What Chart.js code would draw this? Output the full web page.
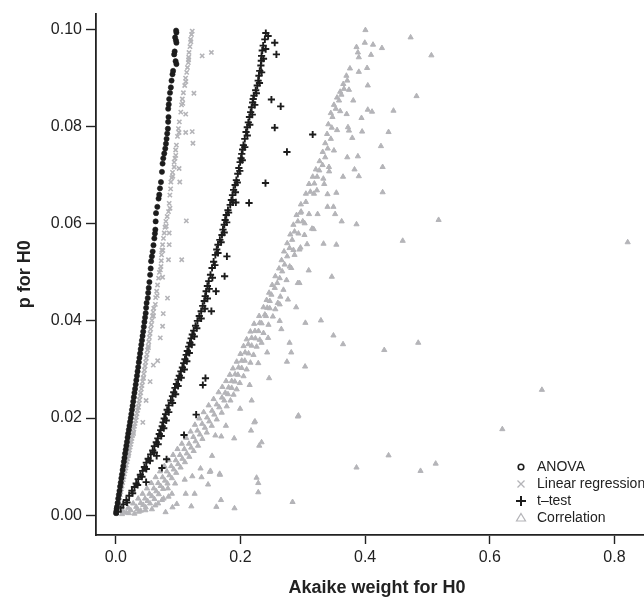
<!DOCTYPE html>
<html>
<head>
<meta charset="utf-8">
<script src="https://cdn.jsdelivr.net/npm/chart.js@4/dist/chart.umd.min.js"></script>
<style>
  html, body { margin: 0; padding: 0; background: #fff; overflow: hidden; }
  canvas { display: block; }
</style>
</head>
<body>
<canvas id="c" width="664" height="599"></canvas>
<script>
// values, as [Akaike weight, p]
const anova = [
  [0.0005,0.0004],[0.001,0.0008],[0.0015,0.0013],[0.002,0.0017],[0.003,0.0025],[0.004,0.0034],[0.005,0.0042],
  [0.006,0.005],[0.007,0.0059],[0.008,0.0067],[0.009,0.0076],[0.010,0.0084],[0.011,0.0093],[0.012,0.0101],
  [0.013,0.011],[0.014,0.0118],[0.015,0.0127],[0.016,0.0135],[0.017,0.0143],[0.018,0.0151],[0.019,0.016],
  [0.020,0.0168],[0.021,0.0176],[0.022,0.0184],[0.023,0.0192],[0.024,0.0200],[0.025,0.0208],[0.026,0.0217],
  [0.027,0.0225],[0.028,0.0234],[0.029,0.0243],[0.030,0.0252],[0.031,0.026],[0.032,0.0269],[0.033,0.0278],
  [0.034,0.0287],[0.035,0.0296],[0.036,0.0305],[0.037,0.0315],[0.038,0.0324],[0.039,0.0333],[0.040,0.0342],
  [0.041,0.0351],[0.042,0.036],[0.043,0.0369],[0.044,0.0378],[0.045,0.0388],[0.046,0.0398],[0.047,0.0407],
  [0.048,0.0416],[0.0487,0.0427],[0.0495,0.0437],[0.0513,0.0447],[0.052,0.0458],[0.0529,0.0468],[0.054,0.048],
  [0.0551,0.0495],[0.056,0.0508],[0.0567,0.0523],[0.058,0.0533],[0.0592,0.0543],[0.0605,0.0556],[0.0619,0.057],
  [0.0628,0.058],[0.0635,0.0588],[0.064,0.0605],[0.0646,0.0622],[0.0667,0.0635],[0.0687,0.0652],[0.0698,0.066],
  [0.0709,0.0673],[0.0725,0.0686],[0.0741,0.0707],[0.0751,0.0724],[0.0762,0.0735],[0.0778,0.0745],[0.0794,0.0755],
  [0.0805,0.0765],[0.0815,0.0775],[0.0825,0.0786],[0.0836,0.0796],[0.084,0.081],[0.0846,0.082],[0.0841,0.0837],
  [0.085,0.0846],[0.0857,0.0857],[0.087,0.087],[0.0884,0.0881],[0.0895,0.0895],[0.091,0.0908],[0.092,0.0915],
  [0.0973,0.0929],[0.096,0.0935],[0.0937,0.0949],[0.0945,0.0955],[0.0973,0.0973],[0.0965,0.0978],[0.0952,0.0984],
  [0.0973,0.0994],[0.0968,0.0998]
];

const linreg = [
  [0.001,0.0006],[0.002,0.0012],[0.003,0.0018],[0.004,0.0024],[0.005,0.003],[0.006,0.0036],[0.007,0.0042],
  [0.008,0.0048],[0.009,0.0054],[0.010,0.006],[0.011,0.0067],[0.012,0.0073],[0.013,0.0079],[0.014,0.0085],
  [0.015,0.0091],[0.016,0.0097],[0.017,0.0103],[0.018,0.011],[0.019,0.0116],[0.020,0.0122],[0.021,0.0128],
  [0.022,0.0134],[0.023,0.014],[0.024,0.0146],[0.025,0.0152],[0.026,0.0158],[0.027,0.0164],[0.028,0.0171],
  [0.029,0.0177],[0.030,0.0183],[0.031,0.0189],[0.032,0.0195],[0.033,0.0202],[0.034,0.0209],[0.035,0.0216],
  [0.036,0.0223],[0.037,0.023],[0.038,0.0237],[0.039,0.0245],[0.040,0.0252],[0.041,0.026],[0.042,0.0267],
  [0.043,0.0275],[0.044,0.0283],[0.045,0.0291],[0.046,0.0299],[0.047,0.0307],[0.048,0.0315],[0.049,0.0323],
  [0.050,0.0331],[0.051,0.034],[0.052,0.0348],[0.053,0.0357],[0.054,0.0366],[0.055,0.0374],[0.056,0.0383],
  [0.057,0.0392],[0.058,0.0401],[0.059,0.041],[0.060,0.0418],[0.061,0.0426],[0.0635,0.0434],[0.064,0.0448],
  [0.0656,0.0461],[0.067,0.0474],[0.0687,0.0488],[0.070,0.05],[0.0725,0.0512],[0.073,0.0524],[0.0735,0.0536],
  [0.074,0.0546],[0.0751,0.0557],[0.0765,0.057],[0.0778,0.0581],[0.079,0.0593],[0.0804,0.0605],[0.0825,0.0615],
  [0.0846,0.0625],[0.0857,0.0642],[0.0868,0.0659],[0.088,0.0672],[0.0884,0.0686],[0.0899,0.0695],[0.091,0.0706],
  [0.0937,0.0717],[0.0937,0.0727],[0.095,0.0735],[0.0963,0.0741],[0.0973,0.0762],[0.099,0.078],[0.1005,0.0796],
  [0.102,0.081],[0.1043,0.083],[0.1055,0.0845],[0.1068,0.0857],[0.1085,0.087],[0.1106,0.0885],[0.112,0.09],
  [0.1138,0.0912],[0.115,0.0922],[0.1164,0.0932],[0.117,0.0943],[0.1175,0.0953],[0.119,0.0965],[0.1201,0.098],
  [0.1215,0.099],[0.1227,0.0997],
  [0.0205,0.0125],[0.0285,0.0168],[0.0365,0.0222],[0.0445,0.0282],[0.0525,0.0345],[0.0605,0.041],[0.0665,0.0452],
  [0.0715,0.0505],[0.0755,0.0545],[0.081,0.0595],[0.087,0.0632],[0.0915,0.0698],[0.096,0.0752],[0.1015,0.0788],
  [0.1075,0.0848],[0.1125,0.0893],[0.1168,0.0938],[0.1205,0.0975],
  [0.1386,0.0946],[0.1534,0.0953],[0.1254,0.0869],[0.1122,0.0826],[0.1227,0.079],[0.1122,0.0788],[0.1238,0.0766],
  [0.1016,0.0714],[0.1027,0.0686],[0.1132,0.0606],[0.0857,0.0581],[0.0857,0.0557],[0.1058,0.0526],[0.0846,0.0526],
  [0.0751,0.049],[0.083,0.0447],[0.0762,0.0415],[0.0751,0.0389],[0.0714,0.0365],[0.0672,0.0318],[0.0603,0.0309],
  [0.0551,0.0275],[0.0487,0.0236],[0.0434,0.0191]
];

const ttest = [
  [0.0037,0.0007],[0.008,0.0015],[0.012,0.0022],[0.017,0.0031],[0.0215,0.004],[0.026,0.005],[0.030,0.0058],
  [0.0328,0.0065],[0.036,0.0074],[0.0395,0.0083],[0.043,0.0091],[0.046,0.0099],[0.049,0.0108],[0.052,0.0116],
  [0.056,0.0125],[0.0593,0.0133],[0.062,0.0142],[0.065,0.015],[0.0675,0.0158],[0.0698,0.0167],[0.072,0.0175],
  [0.0745,0.0183],[0.076,0.0191],[0.0778,0.0199],[0.080,0.0208],[0.0825,0.0217],[0.085,0.0226],[0.0884,0.0236],
  [0.091,0.0245],[0.093,0.0253],[0.095,0.0262],[0.0974,0.027],[0.100,0.0279],[0.102,0.0287],[0.1045,0.0296],
  [0.1069,0.0304],[0.109,0.0313],[0.111,0.0321],[0.113,0.033],[0.1148,0.0338],[0.117,0.0347],[0.119,0.0355],
  [0.121,0.0364],[0.1228,0.0372],[0.125,0.038],[0.128,0.039],[0.131,0.040],[0.134,0.041],[0.137,0.042],
  [0.1395,0.0431],[0.142,0.0441],[0.1435,0.0451],[0.145,0.0461],[0.147,0.0472],[0.1492,0.0482],[0.152,0.0495],
  [0.1545,0.0509],[0.157,0.0522],[0.1598,0.0536],[0.162,0.0547],[0.164,0.0557],[0.167,0.0567],[0.1704,0.0577],
  [0.172,0.0588],[0.1741,0.0598],[0.1755,0.0608],[0.1773,0.0618],[0.180,0.0628],[0.1836,0.0639],[0.1855,0.0649],
  [0.1873,0.0659],[0.189,0.067],[0.1915,0.068],[0.1935,0.069],[0.1958,0.0703],[0.1975,0.0715],[0.1995,0.0727],
  [0.201,0.0735],[0.2021,0.0744],[0.2035,0.0753],[0.2048,0.0762],[0.207,0.0775],[0.209,0.0789],[0.211,0.0799],
  [0.2127,0.0809],[0.2145,0.082],[0.2164,0.083],[0.218,0.084],[0.2196,0.085],[0.2205,0.0857],[0.2217,0.0864],
  [0.2245,0.0875],[0.227,0.0885],[0.2285,0.0895],[0.2297,0.0905],[0.231,0.0915],[0.2328,0.0926],[0.2335,0.0936],
  [0.2339,0.0946],[0.235,0.0957],[0.2365,0.0967],[0.2392,0.098],[0.2444,0.0987],[0.2407,0.0993],
  [0.018,0.0026],[0.027,0.0045],[0.035,0.0062],[0.042,0.0079],[0.049,0.0095],[0.055,0.0112],[0.062,0.0129],
  [0.068,0.0146],[0.073,0.0163],[0.077,0.0179],[0.081,0.0195],[0.085,0.0212],[0.091,0.0231],[0.096,0.0249],
  [0.100,0.0266],[0.105,0.0283],[0.110,0.030],[0.114,0.0317],[0.118,0.0334],[0.122,0.0351],[0.126,0.0368],
  [0.130,0.0385],[0.137,0.0405],[0.143,0.0425],[0.147,0.0446],[0.150,0.0466],[0.155,0.0489],[0.159,0.0515],
  [0.164,0.054],[0.169,0.0562],[0.174,0.0582],[0.178,0.0603],[0.181,0.0623],[0.188,0.0644],[0.192,0.0665],
  [0.195,0.0685],[0.199,0.0709],[0.203,0.0731],[0.207,0.0758],[0.211,0.0782],[0.215,0.0804],[0.219,0.0825],
  [0.223,0.0845],[0.2255,0.0869],[0.2305,0.089],[0.234,0.0912],[0.237,0.094],[0.2405,0.096],
  [0.255,0.0973],[0.2577,0.0949],[0.2497,0.0856],[0.2646,0.0842],[0.255,0.0798],[0.2746,0.0748],[0.2402,0.0684],
  [0.2138,0.0643],[0.1926,0.0644],[0.1783,0.0533],[0.1746,0.0492],[0.1608,0.0461],[0.3159,0.0784],[0.1534,0.042],
  [0.1439,0.0282],[0.1397,0.0268],[0.129,0.0207],[0.1095,0.0165],[0.0815,0.0115],[0.0741,0.0097],[0.0656,0.0122],
  [0.0487,0.0068]
];

const corr = [
  // main band
  [0.010,0.0002],[0.017,0.0005],[0.024,0.001],[0.0328,0.0017],[0.040,0.0025],[0.047,0.0034],[0.054,0.0044],
  [0.061,0.0055],[0.068,0.0066],[0.0751,0.0078],[0.082,0.009],[0.089,0.0101],[0.0963,0.0113],[0.103,0.0124],
  [0.110,0.0136],[0.1175,0.0147],[0.1245,0.0161],[0.131,0.0174],[0.1386,0.0188],[0.1465,0.0201],[0.1545,0.0215],
  [0.162,0.0228],[0.1704,0.0242],[0.1757,0.0252],[0.181,0.0263],[0.186,0.0276],[0.1915,0.029],[0.197,0.0304],
  [0.2021,0.0318],[0.2075,0.0335],[0.2127,0.0352],[0.218,0.0365],[0.2233,0.0379],[0.231,0.0396],[0.2392,0.0413],
  [0.243,0.0427],[0.2471,0.0441],[0.2497,0.0454],[0.2551,0.0468],[0.259,0.0478],[0.263,0.0488],[0.267,0.0502],
  [0.2709,0.0516],[0.275,0.0533],[0.2788,0.055],[0.283,0.0567],[0.2868,0.0584],[0.2921,0.0605],[0.2973,0.0625],
  [0.305,0.0645],[0.3122,0.0666],[0.3186,0.0683],[0.323,0.0697],[0.3265,0.071],[0.3317,0.0721],[0.336,0.0737],
  [0.340,0.0755],[0.345,0.0775],[0.3465,0.0798],[0.3476,0.082],[0.353,0.0837],[0.3582,0.0854],[0.362,0.0866],
  [0.3661,0.0878],[0.3714,0.0895],[0.3757,0.092],[0.3899,0.0943],[0.3862,0.0964],[0.3995,0.0973],[0.4005,0.0999],
  [0.012,0.0008],[0.020,0.0015],[0.028,0.0024],[0.036,0.0034],[0.043,0.0044],[0.050,0.0055],[0.057,0.0066],
  [0.064,0.0078],[0.071,0.009],[0.078,0.0101],[0.085,0.0113],[0.092,0.0124],[0.099,0.0136],[0.106,0.0147],
  [0.113,0.0159],[0.120,0.0172],[0.127,0.0186],[0.134,0.0199],[0.141,0.0212],[0.149,0.0226],[0.157,0.0239],
  [0.165,0.0253],[0.171,0.0264],[0.177,0.0276],[0.183,0.0289],[0.188,0.0302],[0.194,0.0316],[0.200,0.0332],
  [0.205,0.0348],[0.210,0.0362],[0.216,0.0378],[0.222,0.0394],[0.230,0.041],[0.237,0.0428],[0.242,0.0443],
  [0.246,0.0458],[0.251,0.0474],[0.256,0.0492],[0.262,0.0508],[0.266,0.0525],[0.270,0.0543],[0.275,0.056],
  [0.280,0.0578],[0.285,0.0598],[0.290,0.0618],[0.297,0.064],[0.305,0.0662],[0.310,0.0682],[0.316,0.0697],
  [0.321,0.0712],[0.327,0.0729],[0.332,0.0748],[0.336,0.0766],[0.339,0.0785],[0.341,0.0805],[0.345,0.0828],
  [0.350,0.0845],[0.355,0.086],[0.360,0.0872],[0.365,0.0888],[0.370,0.0905],
  [0.030,0.0003],[0.040,0.0009],[0.048,0.0016],[0.055,0.0024],[0.062,0.0033],[0.069,0.0043],[0.076,0.0054],
  [0.083,0.0065],[0.090,0.0076],[0.097,0.0087],[0.104,0.0098],[0.111,0.0109],[0.118,0.012],[0.125,0.0132],
  [0.132,0.0143],[0.139,0.0157],[0.146,0.017],[0.154,0.0184],[0.162,0.0197],[0.170,0.0211],[0.178,0.0224],
  [0.184,0.0236],[0.189,0.0248],[0.194,0.0259],[0.199,0.0272],[0.205,0.0286],[0.210,0.030],[0.216,0.0314],
  [0.221,0.033],[0.226,0.0347],[0.231,0.0361],[0.237,0.0375],[0.245,0.0392],[0.252,0.0409],[0.256,0.0424],
  [0.260,0.0437],[0.264,0.045],[0.269,0.0464],[0.274,0.0484],[0.279,0.0512],[0.285,0.0546],[0.293,0.058],
  [0.303,0.0601],[0.310,0.062],[0.318,0.0662],[0.333,0.0693],[0.342,0.0717],[0.350,0.0751],[0.355,0.0793],
  [0.360,0.0832],
  [0.021,0.0004],[0.035,0.0012],[0.044,0.0021],[0.051,0.0029],[0.058,0.0039],[0.065,0.0049],[0.072,0.006],
  [0.079,0.0071],[0.086,0.0082],[0.093,0.0094],[0.100,0.0105],[0.107,0.0116],[0.114,0.0127],[0.121,0.0139],
  [0.128,0.0152],[0.135,0.0166],[0.143,0.018],[0.150,0.0193],[0.158,0.0207],[0.166,0.0222],[0.174,0.0236],
  [0.180,0.0249],[0.186,0.0262],[0.191,0.0275],[0.196,0.0289],[0.202,0.0303],[0.207,0.0318],[0.213,0.0333],
  [0.218,0.0349],[0.224,0.0364],[0.229,0.0379],[0.234,0.0395],[0.241,0.041],[0.247,0.0426],
  // near-origin fuzz
  [0.0476,0.001],[0.037,0.0007],[0.0635,0.002],[0.0741,0.0031],[0.0846,0.0038],[0.058,0.0012],[0.068,0.0024],
  // scattered below the band
  [0.263,0.0434],[0.2894,0.0428],[0.3042,0.0396],[0.3291,0.0401],[0.3492,0.037],[0.3646,0.0352],[0.4307,0.034],
  [0.4852,0.0355],[0.263,0.040],[0.2656,0.0383],[0.2444,0.0365],[0.2339,0.0355],[0.2788,0.0355],[0.2815,0.0335],
  [0.2429,0.0335],[0.2746,0.0316],[0.3037,0.0306],[0.2286,0.0313],[0.246,0.0282],[0.2148,0.0268],[0.218,0.0236],
  [0.1995,0.0219],[0.2921,0.0203],[0.2233,0.0193],[0.2222,0.0191],[0.217,0.0174],[0.1767,0.0184],[0.19,0.0158],
  [0.1693,0.0162],[0.1598,0.0164],[0.2339,0.015],[0.2302,0.0143],[0.1545,0.0122],[0.3862,0.0098],[0.1672,0.0083],
  [0.1519,0.0091],[0.2259,0.0077],[0.2286,0.0066],[0.2286,0.0047],[0.1481,0.0063],[0.136,0.0096],[0.1228,0.008],
  [0.1106,0.0073],[0.1265,0.0044],[0.1122,0.0044],[0.090,0.0044],[0.0979,0.0023],[0.1212,0.0018],[0.0799,0.0006],
  [0.1614,0.0017],[0.1688,0.0031],[0.1905,0.0014],[0.2836,0.0027],[0.6836,0.0258],[0.6201,0.0177],[0.4376,0.0123],
  [0.4889,0.0091],[0.5132,0.0106],[0.2931,0.0205],[0.1376,0.0078],[0.0952,0.0065],[0.0836,0.0055],[0.0767,0.0034],
  [0.091,0.0016],[0.1508,0.0089],[0.1667,0.0085],
  // scattered around the upper band
  [0.473,0.0984],[0.5063,0.0947],[0.4127,0.0969],[0.427,0.0962],[0.3884,0.0953],[0.4095,0.0948],[0.4032,0.0921],
  [0.3899,0.0913],[0.4043,0.0885],[0.3741,0.0876],[0.381,0.0854],[0.4825,0.0863],[0.4455,0.0833],[0.4043,0.0835],
  [0.4111,0.0831],[0.3942,0.0818],[0.3704,0.0826],[0.3725,0.0799],[0.3741,0.0792],[0.3952,0.079],[0.4376,0.0789],
  [0.3794,0.0777],[0.4254,0.076],[0.3714,0.0737],[0.3884,0.0739],[0.4281,0.0717],[0.383,0.0712],[0.3423,0.0708],
  [0.3646,0.0697],[0.3899,0.0698],[0.3344,0.0682],[0.3397,0.0661],[0.3539,0.0664],[0.4281,0.0665],[0.3227,0.0669],
  [0.3397,0.0635],[0.3492,0.0635],[0.3519,0.062],[0.3238,0.062],[0.3624,0.0605],[0.3862,0.0599],[0.5179,0.0608],
  [0.3148,0.059],[0.3175,0.0589],[0.2963,0.0623],[0.4603,0.0565],[0.8212,0.0562],[0.3333,0.0559],[0.3539,0.0557],
  [0.3069,0.0558],[0.2963,0.0551],[0.3095,0.0504],[0.3466,0.0491],[0.2947,0.0478],[0.3027,0.0577],[0.3,0.0605],
  [0.2868,0.0536],[0.2815,0.0509],[0.2921,0.0478],[0.2762,0.0444],[0.2947,0.0547]
];

const seriesNames = ["ANOVA", "Linear regression", "t\u2013test", "Correlation"];
const xTicks = [0, 0.2, 0.4, 0.6, 0.8];
const xTickLabels = ["0.0", "0.2", "0.4", "0.6", "0.8"];
const yTicks = [0, 0.02, 0.04, 0.06, 0.08, 0.10];
const yTickLabels = ["0.00", "0.02", "0.04", "0.06", "0.08", "0.10"];

const FONT = '"Liberation Sans", Arial, Helvetica, sans-serif';
const INK = "#1c1c1c";
const GREY = "#b4b4b8";

const pts = (arr) => arr.map(([x, y]) => ({ x, y }));

// legend in the lower right corner, like R's legend(bty = "n")
const cornerLegend = {
  id: "cornerLegend",
  afterDraw(chart) {
    const ctx = chart.ctx;
    const x0 = 521, y0 = 467, step = 17;
    ctx.save();
    ctx.font = "14px " + FONT;
    ctx.textBaseline = "middle";
    seriesNames.forEach((name, i) => {
      const y = y0 + i * step;
      ctx.beginPath();
      if (i === 0) {
        ctx.strokeStyle = INK; ctx.lineWidth = 1.6;
        ctx.arc(x0, y, 2.8, 0, Math.PI * 2);
      } else if (i === 1) {
        ctx.strokeStyle = GREY; ctx.lineWidth = 1.3;
        ctx.moveTo(x0 - 3.5, y - 3.5); ctx.lineTo(x0 + 3.5, y + 3.5);
        ctx.moveTo(x0 + 3.5, y - 3.5); ctx.lineTo(x0 - 3.5, y + 3.5);
      } else if (i === 2) {
        ctx.strokeStyle = INK; ctx.lineWidth = 2;
        ctx.moveTo(x0 - 5, y); ctx.lineTo(x0 + 5, y);
        ctx.moveTo(x0, y - 5); ctx.lineTo(x0, y + 5);
      } else {
        ctx.strokeStyle = GREY; ctx.lineWidth = 1.2;
        ctx.moveTo(x0, y - 4.5); ctx.lineTo(x0 + 4.5, y + 3); ctx.lineTo(x0 - 4.5, y + 3); ctx.closePath();
      }
      ctx.stroke();
      ctx.fillStyle = "#222";
      ctx.fillText(name, x0 + 16, y);
    });
    ctx.restore();
  }
};

new Chart(document.getElementById("c"), {
  type: "scatter",
  data: {
    datasets: [
      { label: seriesNames[0], data: pts(anova), pointStyle: "circle", pointRadius: 2.6,
        backgroundColor: INK, borderColor: INK, borderWidth: 0.6 },
      { label: seriesNames[1], data: pts(linreg), pointStyle: "crossRot", pointRadius: 3,
        backgroundColor: GREY, borderColor: GREY, borderWidth: 1.6 },
      { label: seriesNames[2], data: pts(ttest), pointStyle: "cross", pointRadius: 3.6,
        backgroundColor: INK, borderColor: INK, borderWidth: 1.9 },
      { label: seriesNames[3], data: pts(corr), pointStyle: "triangle", pointRadius: 3,
        backgroundColor: GREY, borderColor: GREY, borderWidth: 1 }
    ]
  },
  options: {
    responsive: false,
    animation: false,
    events: [],
    layout: { padding: { top: 11, left: 0, right: 0, bottom: 0 } },
    plugins: { legend: { display: false }, tooltip: { enabled: false } },
    scales: {
      x: {
        type: "linear",
        min: -0.0317,
        max: 0.870,
        afterBuildTicks: (s) => { s.ticks = xTicks.map((v) => ({ value: v })); },
        afterFit: (s) => { s.height = 64; },
        ticks: {
          color: "#222", font: { family: FONT, size: 16 }, padding: 4, maxRotation: 0,
          callback: (v, i) => xTickLabels[i]
        },
        grid: { drawOnChartArea: false, drawTicks: true, tickLength: 9, tickWidth: 1.4, tickColor: "#222" },
        border: { display: true, color: "#222", width: 1.8 },
        title: {
          display: true, text: "Akaike weight for H0", color: "#222",
          font: { family: FONT, size: 18, weight: "bold" }, padding: { top: 0, bottom: 0 }
        }
      },
      y: {
        type: "linear",
        min: -0.0041,
        max: 0.1033,
        afterBuildTicks: (s) => { s.ticks = yTicks.map((v) => ({ value: v })); },
        afterFit: (s) => { s.width = 96; },
        ticks: {
          color: "#222", font: { family: FONT, size: 16 }, padding: 4,
          callback: (v, i) => yTickLabels[i]
        },
        grid: { drawOnChartArea: false, drawTicks: true, tickLength: 10, tickWidth: 1.4, tickColor: "#222" },
        border: { display: true, color: "#222", width: 1.8 },
        title: {
          display: true, text: "p for H0", color: "#222",
          font: { family: FONT, size: 18, weight: "bold" }, padding: { top: 14, bottom: 0 }
        }
      }
    }
  },
  plugins: [cornerLegend]
});
</script>
</body>
</html>
